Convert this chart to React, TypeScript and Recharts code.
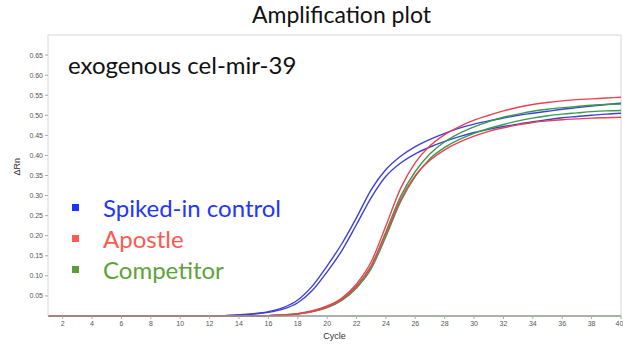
import React from 'react';
import { LineChart, Line, XAxis, YAxis, ReferenceLine } from 'recharts';

const cycles = [1,2,3,4,5,6,7,8,9,10,11,12,13,14,15,16,17,18,19,20,21,22,23,24,25,26,27,28,29,30,31,32,33,34,35,36,37,38,39,40];

const spiked1 = [0,0,0,0,0,0,0,0,0,0,0,0,0.001,0.003,0.006,0.011,0.021,0.04,0.075,0.125,0.18,0.245,0.315,0.365,0.398,0.422,0.44,0.455,0.468,0.478,0.486,0.493,0.5,0.505,0.51,0.515,0.519,0.523,0.527,0.53];
const spiked2 = [0,0,0,0,0,0,0,0,0,0,0,0,0.001,0.002,0.005,0.009,0.017,0.033,0.064,0.11,0.163,0.228,0.295,0.348,0.381,0.404,0.421,0.435,0.447,0.457,0.465,0.472,0.478,0.484,0.489,0.494,0.497,0.5,0.503,0.505];
const apostle1 = [0,0,0,0,0,0,0,0,0,0,0,0,0,0,0,0.001,0.003,0.006,0.013,0.025,0.045,0.08,0.135,0.225,0.318,0.382,0.424,0.452,0.472,0.488,0.5,0.511,0.52,0.527,0.532,0.536,0.539,0.541,0.543,0.545];
const apostle2 = [0,0,0,0,0,0,0,0,0,0,0,0,0,0,0,0.001,0.002,0.005,0.011,0.022,0.041,0.074,0.125,0.205,0.29,0.35,0.388,0.414,0.433,0.448,0.46,0.469,0.476,0.482,0.486,0.489,0.491,0.493,0.494,0.495];
const competitor1 = [0,0,0,0,0,0,0,0,0,0,0,0,0,0,0,0.001,0.003,0.006,0.012,0.023,0.042,0.075,0.125,0.21,0.298,0.36,0.404,0.434,0.455,0.471,0.484,0.495,0.503,0.51,0.515,0.519,0.522,0.525,0.527,0.528];
const competitor2 = [0,0,0,0,0,0,0,0,0,0,0,0,0,0,0,0.001,0.002,0.005,0.011,0.021,0.039,0.07,0.118,0.198,0.285,0.348,0.392,0.42,0.44,0.455,0.467,0.477,0.486,0.493,0.499,0.503,0.506,0.509,0.511,0.512];

const xTicks = [2,4,6,8,10,12,14,16,18,20,22,24,26,28,30,32,34,36,38,40];
const yTicks = [0.05,0.1,0.15,0.2,0.25,0.3,0.35,0.4,0.45,0.5,0.55,0.6,0.65];

const legendItems = [
  { name: 'Spiked-in control', square: '#1a35ff', text: '#2236ff' },
  { name: 'Apostle', square: '#ff5a4f', text: '#ff584e' },
  { name: 'Competitor', square: '#5c9e36', text: '#5ea33a' },
];

const data = cycles.map((c, i) => ({
  cycle: c,
  s1: spiked1[i], s2: spiked2[i],
  a1: apostle1[i], a2: apostle2[i],
  c1: competitor1[i], c2: competitor2[i],
}));

const BLUE = '#4040d8';
const RED = '#e8434f';
const GREEN = '#3c9a4c';
const FONT = 'Lato, "Open Sans", sans-serif';

export default function App() {
  return (
    <div style={{ position: 'absolute', left: 0, top: 0, width: 623, height: 348, background: '#fff' }}>
      <LineChart width={623} height={348} data={data} margin={{ top: 35, right: 2, left: 0, bottom: 0 }}>
        <XAxis
          dataKey="cycle"
          type="number"
          domain={[1, 40]}
          ticks={xTicks}
          height={32}
          tickSize={3}
          tick={{ fontSize: 7, fill: '#555', fontFamily: 'Arial, sans-serif' }}
          axisLine={{ stroke: '#8a9a8a', strokeWidth: 1.5 }}
          tickLine={{ stroke: '#aaa' }}
          label={{ value: 'Cycle', position: 'insideBottom', offset: 9, fontSize: 9, fill: '#333', fontFamily: 'Arial, sans-serif' }}
        />
        <YAxis
          type="number"
          domain={[0, 0.7]}
          ticks={yTicks}
          width={48}
          tickSize={3}
          tickFormatter={(v: number) => v.toFixed(2)}
          tick={{ fontSize: 7, fill: '#555', fontFamily: 'Arial, sans-serif' }}
          axisLine={{ stroke: '#d8d8d8' }}
          tickLine={{ stroke: '#aaa' }}
          label={{ value: 'ΔRn', angle: -90, position: 'insideLeft', offset: 17, fontSize: 9, fill: '#333', fontFamily: 'Arial, sans-serif' }}
        />
        <ReferenceLine y={0.7} stroke="#d8d8d8" />
        <ReferenceLine x={40} stroke="#d8d8d8" />
        <Line dataKey="s1" type="monotone" stroke={BLUE} strokeWidth={1.4} dot={false} isAnimationActive={false} />
        <Line dataKey="s2" type="monotone" stroke={BLUE} strokeWidth={1.4} dot={false} isAnimationActive={false} />
        <Line dataKey="c1" type="monotone" stroke={GREEN} strokeWidth={1.4} dot={false} isAnimationActive={false} />
        <Line dataKey="c2" type="monotone" stroke={GREEN} strokeWidth={1.4} dot={false} isAnimationActive={false} />
        <Line dataKey="a1" type="monotone" stroke={RED} strokeWidth={1.4} dot={false} isAnimationActive={false} />
        <Line dataKey="a2" type="monotone" stroke={RED} strokeWidth={1.4} dot={false} isAnimationActive={false} />
      </LineChart>
      <div style={{ position: 'absolute', left: 0, top: -1, width: 683, textAlign: 'center', fontFamily: FONT, fontSize: 23, color: '#111', lineHeight: '30px' }}>
        Amplification plot
      </div>
      <div style={{ position: 'absolute', left: 68, top: 49, fontFamily: FONT, fontSize: 24, color: '#111', lineHeight: '32px' }}>
        exogenous cel-mir-39
      </div>
      <div style={{ position: 'absolute', left: 72, top: 192, fontFamily: FONT, fontSize: 24 }}>
        {legendItems.map((it) => (
          <div key={it.name} style={{ display: 'flex', alignItems: 'center', height: 31 }}>
            <span style={{ display: 'inline-block', width: 7, height: 7, background: it.square, marginRight: 24 }} />
            <span style={{ color: it.text }}>{it.name}</span>
          </div>
        ))}
      </div>
    </div>
  );
}
